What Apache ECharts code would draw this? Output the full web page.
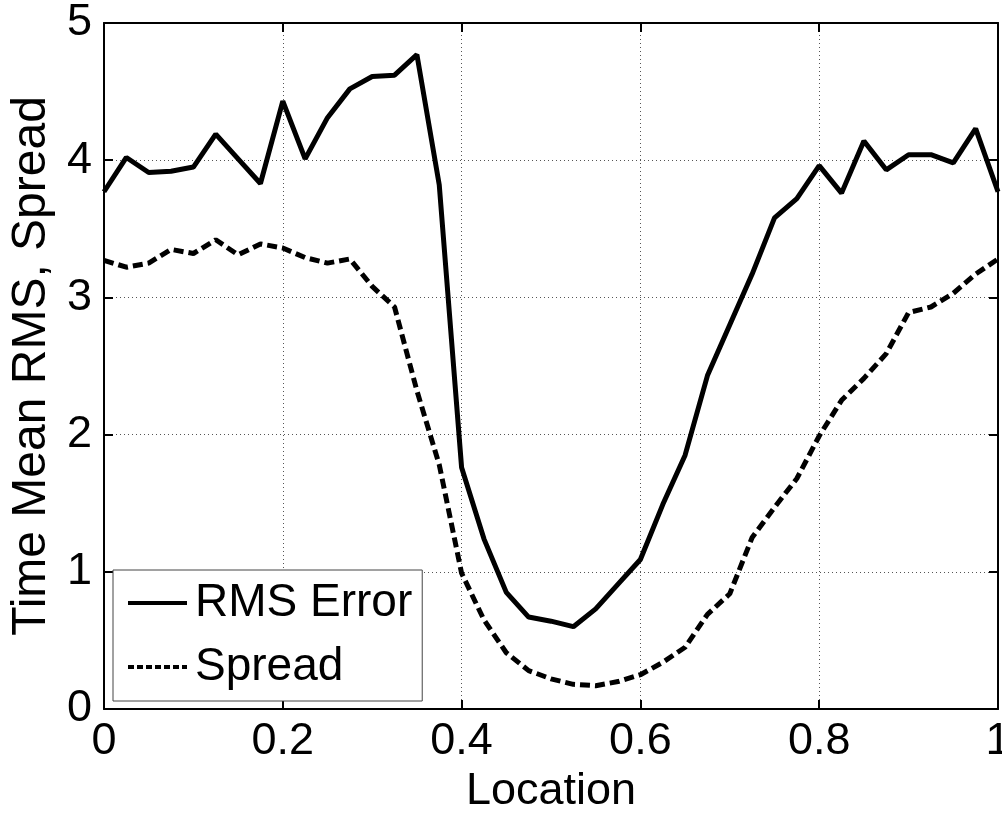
<!DOCTYPE html>
<html>
<head>
<meta charset="utf-8">
<title>Time Mean RMS, Spread</title>
<script src="https://cdn.jsdelivr.net/npm/echarts@6/dist/echarts.min.js"></script>
<style>
  html, body { margin: 0; padding: 0; background: #fff; overflow: hidden; }
  #main { width: 1002px; height: 813px; }
</style>
</head>
<body>
<div id="main"></div>
<script>
// x positions along the domain
const location_ = [0, 0.025, 0.05, 0.075, 0.1, 0.125, 0.15, 0.175, 0.2, 0.225,
  0.25, 0.275, 0.3, 0.325, 0.35, 0.375, 0.4, 0.425, 0.45, 0.475,
  0.5, 0.525, 0.55, 0.575, 0.6, 0.625, 0.65, 0.675, 0.7, 0.725,
  0.75, 0.775, 0.8, 0.825, 0.85, 0.875, 0.9, 0.925, 0.95, 0.975, 1];

// time mean RMS error
const rmsError = [3.77, 4.02, 3.91, 3.92, 3.95, 4.19, 4.01, 3.83, 4.43, 4.01,
  4.31, 4.52, 4.61, 4.62, 4.77, 3.82, 1.76, 1.24, 0.85, 0.67,
  0.64, 0.60, 0.73, 0.91, 1.09, 1.49, 1.85, 2.43, 2.80, 3.17,
  3.58, 3.72, 3.96, 3.76, 4.14, 3.93, 4.04, 4.04, 3.98, 4.23, 3.77];

// ensemble spread
const spread = [3.27, 3.22, 3.25, 3.35, 3.32, 3.42, 3.31, 3.39, 3.36, 3.29,
  3.25, 3.28, 3.08, 2.93, 2.32, 1.78, 0.99, 0.65, 0.41, 0.28,
  0.22, 0.18, 0.17, 0.20, 0.25, 0.34, 0.45, 0.69, 0.84, 1.25,
  1.47, 1.68, 1.99, 2.25, 2.41, 2.59, 2.89, 2.93, 3.03, 3.17, 3.28];

const seriesNames = ['RMS Error', 'Spread'];

const FONT = '"Liberation Sans", Arial, Helvetica, sans-serif';
const DASH = [10, 5];

function pairs(ys) {
  return location_.map((x, i) => [x, ys[i]]);
}

const chart = echarts.init(document.getElementById('main'), null, { renderer: 'canvas' });

// frame axes (top / right) only carry inward ticks, like matlab
const frameAxis = {
  axisLine: { show: true, onZero: false, lineStyle: { color: '#000', width: 2 } },
  axisTick: { show: true, inside: true, length: 9, lineStyle: { color: '#000', width: 2 } },
  axisLabel: { show: false },
  splitLine: { show: false }
};

const option = {
  backgroundColor: '#fff',
  animation: false,
  grid: { left: 104, right: 4, top: 23, bottom: 104, containLabel: false, outerBoundsMode: 'none' },
  legend: {
    orient: 'vertical',
    left: 113,
    top: 570,
    data: [
      { name: seriesNames[0], itemStyle: { opacity: 0 }, lineStyle: { color: '#000', width: 4, type: 'solid' } },
      { name: seriesNames[1], itemStyle: { opacity: 0 }, lineStyle: { color: '#000', width: 4, type: [6, 3] } }
    ],
    itemWidth: 59,
    itemHeight: 20,
    itemGap: 12,
    padding: [7, 10, 8, 13],
    borderColor: '#444',
    borderWidth: 1,
    backgroundColor: '#fff',
    textStyle: { fontFamily: FONT, fontSize: 46, color: '#000', lineHeight: 52, padding: [0, 0, 0, 3] }
  },
  xAxis: [
    {
      type: 'value', min: 0, max: 1, interval: 0.2, position: 'bottom',
      name: 'Location', nameLocation: 'middle', nameGap: 56,
      nameTextStyle: { fontFamily: FONT, fontSize: 45, color: '#000' },
      axisLine: { show: true, onZero: false, lineStyle: { color: '#000', width: 2 } },
      axisTick: { show: true, inside: true, length: 9, lineStyle: { color: '#000', width: 2 } },
      axisLabel: { fontFamily: FONT, fontSize: 45, color: '#000', margin: 10 },
      splitLine: { show: true, lineStyle: { color: '#555', width: 1, type: [1, 3] } }
    },
    Object.assign({ type: 'value', min: 0, max: 1, interval: 0.2, position: 'top' }, frameAxis)
  ],
  yAxis: [
    {
      type: 'value', min: 0, max: 5, interval: 1, position: 'left',
      name: 'Time Mean RMS, Spread', nameLocation: 'middle', nameGap: 48,
      nameTextStyle: { fontFamily: FONT, fontSize: 48, color: '#000' },
      axisLine: { show: true, onZero: false, lineStyle: { color: '#000', width: 2 } },
      axisTick: { show: true, inside: true, length: 9, lineStyle: { color: '#000', width: 2 } },
      axisLabel: { fontFamily: FONT, fontSize: 45, color: '#000', margin: 12 },
      splitLine: { show: true, lineStyle: { color: '#555', width: 1, type: [1, 3] } }
    },
    Object.assign({ type: 'value', min: 0, max: 5, interval: 1, position: 'right' }, frameAxis)
  ],
  series: [
    {
      name: seriesNames[0], type: 'line', data: pairs(rmsError),
      showSymbol: false, symbol: 'none',
      lineStyle: { color: '#000', width: 5 },
      itemStyle: { color: '#000' }
    },
    {
      name: seriesNames[1], type: 'line', data: pairs(spread),
      showSymbol: false, symbol: 'none',
      lineStyle: { color: '#000', width: 5, type: DASH },
      itemStyle: { color: '#000' }
    }
  ]
};

chart.setOption(option);
</script>
</body>
</html>
